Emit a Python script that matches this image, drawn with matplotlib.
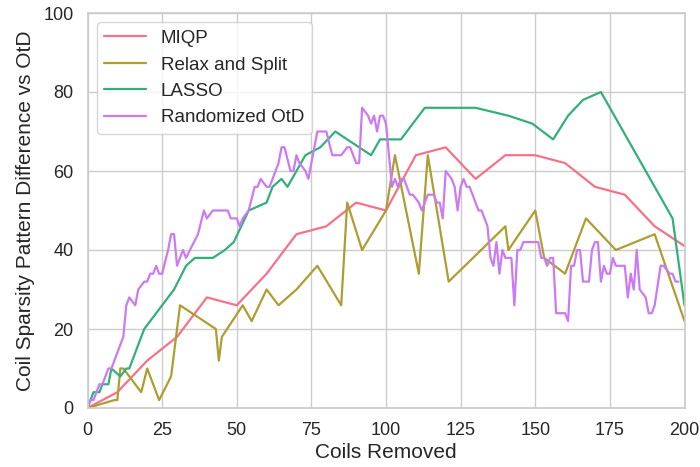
import matplotlib
matplotlib.use("Agg")
import matplotlib.pyplot as plt
import seaborn as sns

# Coil-removal sweep: sparsity pattern difference relative to OtD
miqp_x = [0, 10, 20, 30, 40, 50, 60, 70, 80, 90, 100, 110, 120, 130, 140, 150, 160, 170, 180, 190, 200]
miqp_y = [0, 4, 12, 18, 28, 26, 34, 44, 46, 52, 50, 64, 66, 58, 64, 64, 62, 56, 54, 46, 41]

relax_x = [0, 9, 10, 11, 12, 18, 20, 24, 28, 31, 43, 44, 45, 52, 55, 60, 64, 70, 77, 85, 87,
           92, 100, 103, 111, 114, 121, 140, 141, 150, 153, 160, 167, 177, 190, 200]
relax_y = [0, 2, 2, 10, 10, 4, 10, 2, 8, 26, 20, 12, 18, 26, 22, 30, 26, 30, 36, 26, 52,
           40, 50, 64, 34, 64, 32, 46, 40, 50, 38, 34, 48, 40, 44, 22]

lasso_x = [0, 2, 4, 5, 7, 8, 11, 13, 14, 19, 29, 33, 36, 42, 46, 49, 54, 60, 62, 65, 67,
           73, 78, 83, 95, 98, 105, 113, 130, 141, 149, 156, 161, 166, 172, 196, 200]
lasso_y = [0, 4, 4, 6, 6, 10, 8, 10, 10, 20, 30, 36, 38, 38, 40, 42, 50, 52, 56, 58, 56,
           64, 66, 70, 64, 68, 68, 76, 76, 74, 72, 68, 74, 78, 80, 48, 26]

rand_x = [0, 1, 2, 3, 4, 5, 7, 8, 9, 10, 12, 13, 14, 16, 17, 19, 20, 21, 22, 23, 24, 25,
          27, 28, 29, 30, 32, 33, 37, 39, 40, 42, 47, 48, 50, 51, 52, 54, 56, 57, 58, 60,
          61, 62, 64, 65, 66, 68, 69, 70, 71, 73, 74, 77, 80, 82, 85, 87, 88, 90, 91, 92,
          94, 95, 96, 97, 98, 99, 100, 102, 103, 104, 105, 106, 107, 108, 109, 111, 112,
          113, 114, 116, 117, 118, 119, 120, 122, 123, 124, 125, 126, 127, 128, 131, 132,
          133, 134, 135, 136, 137, 138, 139, 140, 142, 143, 144, 145, 146, 151, 152, 153,
          154, 155, 156, 157, 160, 161, 162, 163, 164, 165, 166, 168, 169, 170, 171, 172,
          173, 174, 175, 176, 177, 180, 181, 182, 183, 184, 185, 187, 188, 189, 190, 192,
          193, 195, 196, 197, 198]
rand_y = [0, 2, 2, 4, 6, 6, 10, 10, 12, 14, 18, 26, 28, 26, 30, 32, 32, 34, 34, 36, 34, 34,
          40, 44, 44, 36, 40, 38, 44, 50, 48, 50, 50, 48, 48, 46, 48, 50, 56, 56, 58, 56,
          56, 58, 62, 66, 66, 60, 60, 64, 62, 60, 58, 70, 70, 64, 64, 66, 66, 62, 62, 76,
          74, 72, 74, 70, 74, 74, 72, 56, 58, 56, 58, 58, 56, 54, 54, 52, 50,
          52, 54, 54, 52, 52, 48, 60, 58, 56, 50, 56, 58, 56, 56, 50, 50,
          48, 46, 38, 36, 42, 34, 40, 38, 38, 26, 40, 40, 42, 42, 38, 38,
          36, 38, 38, 24, 24, 22, 36, 36, 40, 40, 32, 32, 40, 42, 42, 32,
          36, 34, 34, 38, 36, 36, 28, 34, 30, 40, 30, 28, 24, 24, 26, 36,
          36, 34, 34, 32, 32]

series = [
    ("MIQP", miqp_x, miqp_y, 0),
    ("Relax and Split", relax_x, relax_y, 1),
    ("LASSO", lasso_x, lasso_y, 2),
    ("Randomized OtD", rand_x, rand_y, 4),
]

sns.set_theme(style="whitegrid")
plt.rcParams["font.family"] = ["Liberation Sans", "DejaVu Sans"]
palette = sns.color_palette("husl", 5)

fig = plt.figure(figsize=(7.0, 4.67), dpi=100)
ax = fig.add_axes([87.5 / 700, 59 / 467, 597 / 700, 395 / 467])

for label, xs, ys, ci in series:
    ax.plot(xs, ys, color=palette[ci], lw=1.6, label=label)

ax.set_xlim(0, 200)
ax.set_ylim(0, 100)
ax.set_xticks([0, 25, 50, 75, 100, 125, 150, 175, 200])
ax.set_yticks([0, 20, 40, 60, 80, 100])
ax.tick_params(axis="both", labelsize=13, colors="#262626", pad=4)
ax.set_xlabel("Coils Removed", fontsize=15, color="#262626", labelpad=3)
ax.set_ylabel("Coil Sparsity Pattern Difference vs OtD", fontsize=15, color="#262626", labelpad=6)
ax.legend(loc="upper left", fontsize=13.5, frameon=True, handlelength=2.2)

fig.savefig("out.png", dpi=100)
